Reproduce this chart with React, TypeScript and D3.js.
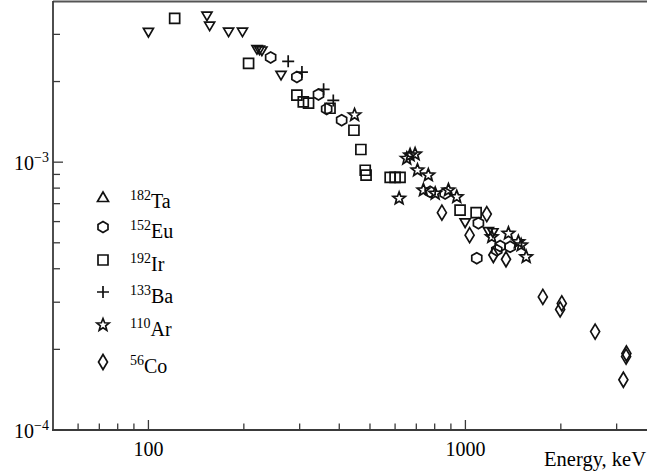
import { useEffect, useRef } from "react";
import * as d3 from "d3";

// energy (keV) / value pairs
const taEnergy = [100, 153, 156, 179, 198, 220, 224, 228, 262, 998, 1182, 1221];
const taValue = [3.05e-3, 3.51e-3, 3.22e-3, 3.06e-3, 3.06e-3, 2.63e-3, 2.62e-3, 2.6e-3, 2.11e-3, 5.93e-4, 5.5e-4, 5.45e-4];

const euEnergy = [243, 294, 344, 365, 407, 774, 863, 1099, 1086, 1256, 1287, 1384];
const euValue = [2.46e-3, 2.08e-3, 1.79e-3, 1.58e-3, 1.435e-3, 7.75e-4, 7.64e-4, 5.92e-4, 4.38e-4, 4.69e-4, 4.86e-4, 4.83e-4];

const irEnergy = [121, 207, 294, 308, 320, 374, 445, 468, 483, 486, 579, 600, 622, 962, 1081];
const irValue = [3.44e-3, 2.34e-3, 1.78e-3, 1.68e-3, 1.66e-3, 1.59e-3, 1.316e-3, 1.115e-3, 9.33e-4, 8.94e-4, 8.77e-4, 8.77e-4, 8.77e-4, 6.62e-4, 6.48e-4];

const baEnergy = [276, 305, 357, 383];
const baValue = [2.38e-3, 2.17e-3, 1.87e-3, 1.7e-3];

const arEnergy = [447, 618, 653, 669, 694, 706, 764, 737, 803, 884, 939, 1211, 1367, 1469, 1499, 1555];
const arValue = [1.5e-3, 7.32e-4, 1.032e-3, 1.062e-3, 1.071e-3, 9.33e-4, 8.94e-4, 7.86e-4, 7.64e-4, 7.86e-4, 7.42e-4, 5.26e-4, 5.42e-4, 5.04e-4, 4.9e-4, 4.43e-4];

const coEnergy = [843, 1168, 1031, 1225, 1343, 1755, 2014, 1990, 2566, 3213, 3220, 3150];
const coValue = [6.48e-4, 6.4e-4, 5.34e-4, 4.5e-4, 4.34e-4, 3.14e-4, 2.97e-4, 2.82e-4, 2.33e-4, 1.88e-4, 1.93e-4, 1.54e-4];

const legendMass = ["182", "152", "192", "133", "110", "56"];
const legendName = ["Ta", "Eu", "Ir", "Ba", "Ar", "Co"];

const xMajor = [100, 1000];
const xMinor = [60, 70, 80, 90, 200, 300, 400, 500, 600, 700, 800, 900, 2000, 3000];
const yMajor = [1e-4, 1e-3];
const yMinor = [2e-4, 3e-4, 4e-4, 5e-4, 6e-4, 7e-4, 8e-4, 9e-4, 2e-3, 3e-3];

const W = 647;
const H = 474;

// marker shapes centred on 0,0
const shapes: Record<string, string> = {
  triDown: "M-5,-4L5,-4L0,4.5Z",
  triUp: "M-5.5,4.5L5.5,4.5L0,-5Z",
  hex: "M-5,-2.6L0,-5.5L5,-2.6L5,2.6L0,5.5L-5,2.6Z",
  square: "M-5,-5H5V5H-5Z",
  plus: "M-6,0H6M0,-6V6",
  star: (() => {
    const pts: string[] = [];
    for (let i = 0; i < 10; i++) {
      const r = i % 2 === 0 ? 6.5 : 2.8;
      const a = -Math.PI / 2 + (i * Math.PI) / 5;
      pts.push(`${(r * Math.cos(a)).toFixed(2)},${(r * Math.sin(a)).toFixed(2)}`);
    }
    return "M" + pts.join("L") + "Z";
  })(),
  diamond: "M0,-7.5L4.5,0L0,7.5L-4.5,0Z",
};

const App = () => {
  const ref = useRef<SVGSVGElement>(null);

  useEffect(() => {
    const svg = d3.select(ref.current);
    svg.selectAll("*").remove();

    const x = d3.scaleLog().domain([50, 3740]).range([53, W]);
    const y = d3.scaleLog().domain([1e-4, 3.98e-3]).range([430, 1.5]);

    const axisColor = "#3a3a3a";
    const font = "'Liberation Serif', 'Times New Roman', serif";

    // frame: top line, left and bottom axes
    svg.append("line").attr("x1", 53).attr("x2", W).attr("y1", 1.5).attr("y2", 1.5)
      .attr("stroke", "#555").attr("stroke-width", 2);
    svg.append("line").attr("x1", 53).attr("x2", 53).attr("y1", 1).attr("y2", 431)
      .attr("stroke", axisColor).attr("stroke-width", 1.8);
    svg.append("line").attr("x1", 52).attr("x2", W).attr("y1", 430).attr("y2", 430)
      .attr("stroke", axisColor).attr("stroke-width", 1.8);

    const ticks = svg.append("g").attr("stroke", axisColor).attr("stroke-width", 1.3);
    xMajor.forEach((d) => {
      ticks.append("line").attr("x1", x(d)).attr("x2", x(d)).attr("y1", 430).attr("y2", 420);
    });
    xMinor.forEach((d) => {
      ticks.append("line").attr("x1", x(d)).attr("x2", x(d)).attr("y1", 430).attr("y2", 423.5);
    });
    yMajor.forEach((d) => {
      ticks.append("line").attr("x1", 53).attr("x2", 63).attr("y1", y(d)).attr("y2", y(d));
    });
    yMinor.forEach((d) => {
      ticks.append("line").attr("x1", 53).attr("x2", 60).attr("y1", y(d)).attr("y2", y(d));
    });

    // tick labels
    xMajor.forEach((d) => {
      svg.append("text").attr("x", x(d)).attr("y", 456).attr("text-anchor", "middle")
        .attr("font-family", font).attr("font-size", 20).text(String(d));
    });
    yMajor.forEach((d) => {
      const t = svg.append("text").attr("x", 49).attr("y", y(d) + 8).attr("text-anchor", "end")
        .attr("font-family", font).attr("font-size", 20);
      t.append("tspan").text("10");
      t.append("tspan").attr("dy", -8).attr("font-size", 14).text("\u2212" + Math.round(-Math.log10(d)));
    });
    svg.append("text").attr("x", 646).attr("y", 466).attr("text-anchor", "end")
      .attr("font-family", font).attr("font-size", 20.5).text("Energy, keV");

    // data
    const series = [
      { e: taEnergy, v: taValue, shape: "triDown" },
      { e: euEnergy, v: euValue, shape: "hex" },
      { e: irEnergy, v: irValue, shape: "square" },
      { e: baEnergy, v: baValue, shape: "plus" },
      { e: arEnergy, v: arValue, shape: "star" },
      { e: coEnergy, v: coValue, shape: "diamond" },
    ];
    const plot = svg.append("g").attr("fill", "none").attr("stroke", "#111").attr("stroke-width", 1.7);
    series.forEach((s) => {
      plot.append("g").selectAll("path")
        .data(s.e.map((e, i) => [e, s.v[i]]))
        .enter()
        .append("path")
        .attr("transform", (d) => `translate(${x(d[0])},${y(d[1])})`)
        .attr("d", shapes[s.shape]);
    });

    // legend
    const legendShapes = ["triUp", "hex", "square", "plus", "star", "diamond"];
    const rows = [197, 227, 260, 292, 325, 362];
    const legend = svg.append("g");
    legendShapes.forEach((sh, i) => {
      legend.append("path").attr("transform", `translate(103,${rows[i]})`).attr("d", shapes[sh])
        .attr("fill", "none").attr("stroke", "#111").attr("stroke-width", 1.7);
      const t = legend.append("text").attr("x", 130).attr("y", rows[i] + 11)
        .attr("font-family", font).attr("font-size", 20);
      t.append("tspan").attr("font-size", 14).attr("dy", -8).text(legendMass[i]);
      t.append("tspan").attr("dy", 8).text(legendName[i]);
    });
  }, []);

  return <svg ref={ref} width={W} height={H} style={{ position: "absolute", left: 0, top: 0, background: "#fff" }} />;
};

export default App;
